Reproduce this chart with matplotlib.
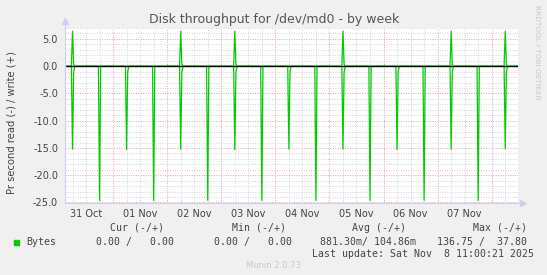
import matplotlib
matplotlib.use('Agg')
import matplotlib.pyplot as plt
import pandas as pd
from matplotlib.patches import Rectangle
from matplotlib.lines import Line2D

W, H = 547, 275

# spikes every morning at 06:00 (read and sometimes write) and every evening at 18:00 (read)
morning_times = ['2025-10-31 06:00', '2025-11-01 06:00', '2025-11-02 06:00',
                 '2025-11-03 06:00', '2025-11-04 06:00', '2025-11-05 06:00',
                 '2025-11-06 06:00', '2025-11-07 06:00', '2025-11-08 06:00']
morning_read = [-15.2, -15.3, -15.2, -15.3, -15.2, -15.2, -15.3, -15.2, -15.2]
morning_write = [6.4, 0.0, 6.4, 6.4, 0.0, 6.4, 0.0, 6.4, 6.4]
tail_read = [-1.2, -1.0, -1.2, -1.2, -1.0, -1.2, -1.0, -1.2, -1.2]
tail_write = [0.4, 0.0, 0.4, 0.4, 0.0, 0.4, 0.0, 0.4, 0.4]

evening_times = ['2025-10-31 18:00', '2025-11-01 18:00', '2025-11-02 18:00',
                 '2025-11-03 18:00', '2025-11-04 18:00', '2025-11-05 18:00',
                 '2025-11-06 18:00', '2025-11-07 18:00']
evening_read = [-24.6, -24.6, -24.6, -24.6, -24.6, -24.6, -24.6, -24.6]

day_labels = ['31 Oct', '01 Nov', '02 Nov', '03 Nov', '04 Nov', '05 Nov', '06 Nov', '07 Nov']
label_times = ['2025-10-31 12:00', '2025-11-01 12:00', '2025-11-02 12:00', '2025-11-03 12:00',
               '2025-11-04 12:00', '2025-11-05 12:00', '2025-11-06 12:00', '2025-11-07 12:00']
y_ticks = [-25, -20, -15, -10, -5, 0, 5]
y_labels = ['-25.0', '-20.0', '-15.0', '-10.0', '-5.0', '0.0', '5.0']

t_start = pd.Timestamp('2025-10-31 02:40')
t_end = pd.Timestamp('2025-11-08 11:40')

# build 30 min series
idx = pd.date_range('2025-10-31 02:30', '2025-11-08 11:30', freq='30min')
read = pd.Series(0.0, index=idx)
write = pd.Series(0.0, index=idx)
step = pd.Timedelta('30min')
for t, r, w, tr, tw in zip(morning_times, morning_read, morning_write, tail_read, tail_write):
    t = pd.Timestamp(t)
    read[t] = r
    write[t] = w
    read[t + step] = tr
    write[t + step] = tw
for t, r in zip(evening_times, evening_read):
    read[pd.Timestamp(t)] = r

fig = plt.figure(figsize=(W / 100, H / 100), dpi=100, facecolor='#f0f0f0')
ax = fig.add_axes([65 / W, 1 - 202.5 / H, 453 / W, 175 / H])
ax.set_facecolor('white')

ax.set_xlim(t_start, t_end)
ax.set_ylim(-25, 7.1)

# grid: minor gray dotted, major red dotted
minor_col = '#d4d4d4'
major_col = '#eaa0a0'
for v in range(-24, 8):
    if v % 5 != 0:
        ax.axhline(v, color=minor_col, lw=0.7, ls=(0, (1, 1.5)), zorder=1)
for v in y_ticks:
    ax.axhline(v, color=major_col, lw=0.7, ls=(0, (1, 1.5)), zorder=1)
hours = pd.date_range('2025-10-31 00:00', '2025-11-09 00:00', freq='6h')
for h in hours:
    if h < t_start or h > t_end:
        continue
    col = major_col if h.hour == 0 else minor_col
    ax.axvline(h, color=col, lw=0.7, ls=(0, (1, 1.5)), zorder=1)

ax.plot(read.index, read.values, color='#00cc00', lw=0.9, zorder=3)
ax.plot(write.index, write.values, color='#00cc00', lw=0.9, zorder=3)
ax.axhline(0, color='black', lw=1.0, zorder=4)

ax.set_yticks(y_ticks)
ax.set_yticklabels(y_labels)
ax.set_xticks(pd.to_datetime(label_times))
ax.set_xticklabels(day_labels)
ax.tick_params(axis='both', length=0, labelsize=7, colors='#444444')
ax.tick_params(axis='y', pad=5)
ax.tick_params(axis='x', pad=5)

for s in ['top', 'right', 'left', 'bottom']:
    ax.spines[s].set_visible(False)

axis_col = '#cfcff5'
ax.add_line(Line2D([0, 0], [0, 1.035], transform=ax.transAxes, color=axis_col, lw=0.8, clip_on=False, zorder=5))
ax.add_line(Line2D([0, 1.012], [0, 0], transform=ax.transAxes, color=axis_col, lw=0.8, clip_on=False, zorder=5))
ax.plot([0], [1.035], marker='^', ms=4, color=axis_col, transform=ax.transAxes, clip_on=False, zorder=5)
ax.plot([1.012], [0], marker='>', ms=4, color=axis_col, transform=ax.transAxes, clip_on=False, zorder=5)

ax.set_ylabel('Pr second read (-) / write (+)', fontsize=7.2, color='#444444')
ax.yaxis.set_label_coords(-48 / 453, (202.5 - 123) / 175)

fig.text(274 / W, 1 - 19 / H, 'Disk throughput for /dev/md0 - by week',
         ha='center', va='center', fontsize=9, color='#555555')
fig.text(537 / W, 1 - 5 / H, 'RRDTOOL / TOBI OETIKER', rotation=270,
         ha='center', va='top', fontsize=5.3, color='#c8c8c8')

mono = dict(family='DejaVu Sans Mono', fontsize=7.1, color='#444444', va='center')
fig.text(164 / W, 1 - 228 / H, 'Cur (-/+)', ha='right', **mono)
fig.text(286 / W, 1 - 228 / H, 'Min (-/+)', ha='right', **mono)
fig.text(406 / W, 1 - 228 / H, 'Avg (-/+)', ha='right', **mono)
fig.text(527 / W, 1 - 228 / H, 'Max (-/+)', ha='right', **mono)

fig.add_artist(Rectangle((13.5 / W, 1 - 244.5 / H), 5 / W, 5 / H,
                         transform=fig.transFigure, color='#00cc00'))
fig.text(26 / W, 1 - 242 / H, 'Bytes', ha='left', **mono)
fig.text(174 / W, 1 - 242 / H, '0.00 /   0.00', ha='right', **mono)
fig.text(292 / W, 1 - 242 / H, '0.00 /   0.00', ha='right', **mono)
fig.text(416 / W, 1 - 242 / H, '881.30m/ 104.86m', ha='right', **mono)
fig.text(527 / W, 1 - 242 / H, '136.75 /  37.80', ha='right', **mono)
fig.text(534 / W, 1 - 254 / H, 'Last update: Sat Nov  8 11:00:21 2025', ha='right', **mono)
fig.text(273 / W, 1 - 266 / H, 'Munin 2.0.73', ha='center', va='center',
         fontsize=6, color='#c8c8c8')

fig.savefig('out.png', dpi=100, facecolor=fig.get_facecolor())
